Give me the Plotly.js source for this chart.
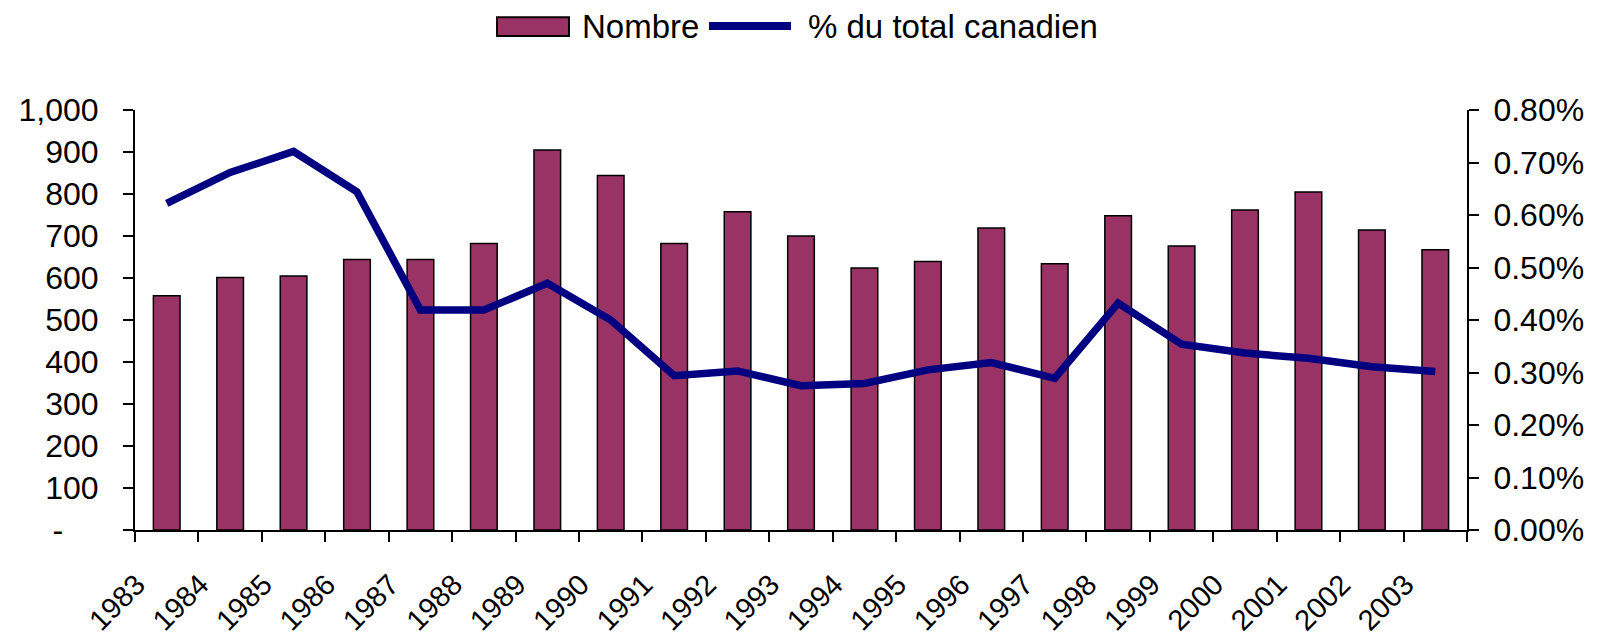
<!DOCTYPE html>
<html>
<head>
<meta charset="utf-8">
<script src="https://cdn.plot.ly/plotly-3.0.1.min.js"></script>
<style>
html,body{margin:0;padding:0;background:#fff;}
#chart{width:1602px;height:639px;}
</style>
</head>
<body>
<div id="chart"></div>
<script>
const years = ["1983","1984","1985","1986","1987","1988","1989","1990","1991","1992","1993","1994","1995","1996","1997","1998","1999","2000","2001","2002","2003"];
const nombre = [558,601,605,644,644,682,905,844,682,758,700,624,639,719,634,748,676,762,805,714,667];
const pctTotal = [0.00622,0.00681,0.00721,0.00644,0.00419,0.00419,0.00470,0.00400,0.00294,0.00303,0.00275,0.00279,0.00305,0.00319,0.00289,0.00432,0.00354,0.00337,0.00327,0.00311,0.00302];
const leftTickVals = [0,100,200,300,400,500,600,700,800,900,1000];
const leftTickText = ["-\u00a0\u00a0\u00a0\u00a0","100","200","300","400","500","600","700","800","900","1,000"];
const rightTickVals = [0,0.001,0.002,0.003,0.004,0.005,0.006,0.007,0.008];
const rightTickText = ["0.00%","0.10%","0.20%","0.30%","0.40%","0.50%","0.60%","0.70%","0.80%"];
const seriesNames = ["Nombre","% du total canadien"];

const barColor = "#993366";
const lineColor = "#000080";
const axisFont = {family:"Liberation Sans, Arial, sans-serif", size:32, color:"#000"};
const legendFont = {family:"Liberation Sans, Arial, sans-serif", size:33, color:"#000"};

const traces = [
  {type:"bar", x:years, y:nombre, name:seriesNames[0], yaxis:"y",
   marker:{color:barColor, line:{color:"#000", width:1.5}}, hoverinfo:"x+y"},
  {type:"scatter", mode:"lines", x:years, y:pctTotal, name:seriesNames[1], yaxis:"y2",
   line:{color:lineColor, width:7.5}}
];

const n = years.length;
const layout = {
  width:1602, height:639,
  margin:{l:135, r:135, t:110, b:109, pad:0},
  paper_bgcolor:"#fff", plot_bgcolor:"#fff",
  showlegend:false,
  bargap:0.58,
  xaxis:{type:"category", categoryarray:years, range:[-0.5, n-0.5],
    showline:true, linecolor:"#000", linewidth:2, showgrid:false, zeroline:false,
    ticks:"outside", ticklen:10, tickwidth:2, tickcolor:"#000", tickson:"boundaries",
    tickangle:-45, tickfont:{family:"Liberation Sans, Arial, sans-serif", size:29, color:"#000"},
    ticklabelshift:-30, ticklabelstandoff:24},
  xaxis3:{overlaying:"x", anchor:"y", type:"linear", range:[-0.5, n-0.5], tick0:-0.5, dtick:1,
    showline:false, showgrid:false, zeroline:false, ticks:"inside", ticklen:10, tickwidth:2,
    tickcolor:"#000", showticklabels:false},
  yaxis:{range:[0,1000], tickvals:leftTickVals, ticktext:leftTickText,
    showline:true, linecolor:"#000", linewidth:2, showgrid:false, zeroline:false,
    ticks:"outside", ticklen:10, tickwidth:2, tickcolor:"#000", tickfont:axisFont,
    ticklabelstandoff:18},
  yaxis3:{overlaying:"y", anchor:"x", range:[0,1000], tickvals:leftTickVals,
    showline:false, showgrid:false, zeroline:false, ticks:"inside", ticklen:10, tickwidth:2,
    tickcolor:"#000", showticklabels:false},
  yaxis2:{overlaying:"y", side:"right", anchor:"x", range:[0,0.008], tickvals:rightTickVals, ticktext:rightTickText,
    showline:true, linecolor:"#000", linewidth:2, showgrid:false, zeroline:false,
    ticks:"outside", ticklen:10, tickwidth:2, tickcolor:"#000", tickfont:axisFont,
    ticklabelstandoff:8},
  yaxis4:{overlaying:"y", side:"right", anchor:"x", range:[0,0.008], tickvals:rightTickVals,
    showline:false, showgrid:false, zeroline:false, ticks:"inside", ticklen:10, tickwidth:2,
    tickcolor:"#000", showticklabels:false},
  shapes:[
    {type:"rect", xref:"paper", yref:"paper", x0:0.2718, x1:0.3258, y0:1.1762, y1:1.2207,
     fillcolor:barColor, line:{color:"#000", width:2}},
    {type:"line", xref:"paper", yref:"paper", x0:0.4309, x1:0.4925, y0:1.2, y1:1.2,
     line:{color:lineColor, width:8}}
  ],
  annotations:[
    {xref:"paper", yref:"paper", x:0.3341, y:1.2, xanchor:"left", yanchor:"middle",
     text:seriesNames[0], showarrow:false, font:legendFont},
    {xref:"paper", yref:"paper", x:0.5038, y:1.2, xanchor:"left", yanchor:"middle",
     text:seriesNames[1], showarrow:false, font:legendFont}
  ]
};

Plotly.newPlot("chart", traces, layout, {displayModeBar:false, staticPlot:true});
</script>
</body>
</html>
